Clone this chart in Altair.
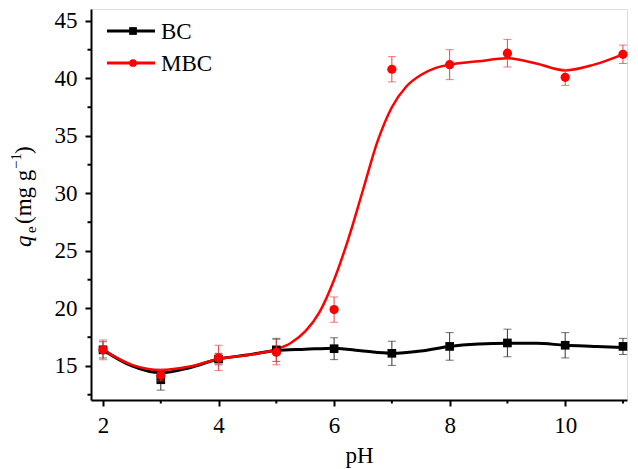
import altair as alt
import pandas as pd

# ---- data ----
ph = [2, 3, 4, 5, 6, 7, 8, 9, 10, 11]
bc_q = [16.4, 13.8, 15.6, 16.4, 16.5, 16.1, 16.7, 17.0, 16.8, 16.7]
bc_err = [0.7, 0.9, 0.5, 1.0, 0.95, 1.05, 1.2, 1.2, 1.1, 0.7]
mbc_q = [16.4, 14.2, 15.7, 16.2, 19.9, 40.8, 41.2, 42.2, 40.1, 42.1]
mbc_err = [0.85, 0.5, 1.1, 1.1, 1.1, 1.1, 1.3, 1.2, 0.7, 0.8]

# fitted curves as drawn in the reference
bc_fit_ph = [2, 2.5, 3, 3.5, 4, 4.5, 5, 5.5, 6, 6.5, 7, 7.5, 8, 8.5, 9, 9.5, 10, 10.5, 11]
bc_fit_q = [16.4, 15.0, 14.4, 14.85, 15.6, 15.95, 16.35, 16.45, 16.55, 16.3, 16.1, 16.3,
            16.7, 16.9, 16.97, 16.97, 16.8, 16.7, 16.6]
mbc_fit_ph = [2, 2.5, 3, 3.5, 4, 4.5, 5, 5.25, 5.5, 5.75, 6, 6.25, 6.5, 6.75, 7, 7.25,
              7.5, 7.75, 8, 8.5, 9, 9.5, 10, 10.5, 11]
mbc_fit_q = [16.4, 15.1, 14.65, 14.95, 15.6, 15.95, 16.45, 17.0, 18.0, 19.7, 22.5, 26.1,
             30.3, 34.5, 37.5, 39.3, 40.3, 40.9, 41.2, 41.5, 41.75, 41.3, 40.7, 41.2, 42.1]

legend_labels = ["BC", "MBC"]
x_major = [2, 4, 6, 8, 10]
x_minor = [3, 5, 7, 9, 11]
y_major = [15, 20, 25, 30, 35, 40, 45]
y_minor = [12.5, 17.5, 22.5, 27.5, 32.5, 37.5, 42.5]
# y-axis title pieces (italic q, subscript e, superscript -1)
ytitle_parts = ["q", "e", "(mg g", "−1", ")"]

RED = "#ff0000"
BLACK = "#000000"
FONT = "Liberation Serif"
PLOT_H = 391

pts_bc = pd.DataFrame({"ph": ph, "q": bc_q,
                       "lo": [a - b for a, b in zip(bc_q, bc_err)],
                       "hi": [a + b for a, b in zip(bc_q, bc_err)]})
pts_mbc = pd.DataFrame({"ph": ph, "q": mbc_q,
                        "lo": [a - b for a, b in zip(mbc_q, mbc_err)],
                        "hi": [a + b for a, b in zip(mbc_q, mbc_err)]})
fit_bc = pd.DataFrame({"ph": bc_fit_ph, "q": bc_fit_q})
fit_mbc = pd.DataFrame({"ph": mbc_fit_ph, "q": mbc_fit_q})

xscale = alt.Scale(domain=[1.792, 11.07], nice=False, zero=False)
yscale = alt.Scale(domain=[12.04, 46.04], nice=False, zero=False)

xaxis = alt.Axis(
    values=x_major, title="pH", grid=False, format="d",
    labelOverlap=False, labelBound=False, labelFlush=False, tickSize=6,
    labelFont=FONT, labelFontSize=23, labelColor="black", labelPadding=8,
    titleFont=FONT, titleFontSize=23, titleFontWeight="normal", titleColor="black",
    titlePadding=7,
    domainColor="black", domainWidth=2, tickColor="black", tickWidth=2,
)
yaxis = alt.Axis(
    values=y_major, title=None, grid=False, format="d",
    labelOverlap=False, labelBound=False, labelFlush=False, tickSize=6,
    labelFont=FONT, labelFontSize=23, labelColor="black", labelPadding=8,
    domainColor="black", domainWidth=2, tickColor="black", tickWidth=2,
)

X = alt.X("ph:Q", scale=xscale, axis=xaxis)
Y = alt.Y("q:Q", scale=yscale, axis=yaxis)
Xp = alt.X("ph:Q", scale=xscale)
Yp = alt.Y("q:Q", scale=yscale)

line_bc = alt.Chart(fit_bc).mark_line(color=BLACK, strokeWidth=3, interpolate="monotone").encode(x=X, y=Y)
line_mbc = alt.Chart(fit_mbc).mark_line(color=RED, strokeWidth=2.5, interpolate="monotone").encode(x=Xp, y=Yp)


def errbars(df, color):
    rule = alt.Chart(df).mark_rule(color=color, strokeWidth=1).encode(
        x=Xp, y=alt.Y("lo:Q", scale=yscale), y2="hi:Q")
    cap_lo = alt.Chart(df).mark_tick(color=color, thickness=1, size=8, orient="horizontal").encode(
        x=Xp, y=alt.Y("lo:Q", scale=yscale))
    cap_hi = alt.Chart(df).mark_tick(color=color, thickness=1, size=8, orient="horizontal").encode(
        x=Xp, y=alt.Y("hi:Q", scale=yscale))
    return rule + cap_lo + cap_hi


err_bc = errbars(pts_bc, "#333333")
err_mbc = errbars(pts_mbc, "#f04040")

pt_bc = alt.Chart(pts_bc).mark_point(shape="square", filled=True, color=BLACK, size=75, opacity=1).encode(x=Xp, y=Yp)
pt_mbc = alt.Chart(pts_mbc).mark_point(shape="circle", filled=True, color=RED, size=85, opacity=1).encode(x=Xp, y=Yp)

# minor ticks (outward, shorter) drawn through the scales
minor_x = alt.Chart(pd.DataFrame({"ph": x_minor})).mark_rule(color="black", strokeWidth=2).encode(
    x=Xp, y=alt.value(PLOT_H), y2=alt.value(PLOT_H + 3.5))
minor_y = alt.Chart(pd.DataFrame({"q": y_minor})).mark_rule(color="black", strokeWidth=2).encode(
    y=Yp, x=alt.value(-3.5), x2=alt.value(0))

# manual legend (inside the plot, top-left)
extra = []
for i, lab in enumerate(legend_labels):
    col = BLACK if i == 0 else RED
    shp = "square" if i == 0 else "circle"
    yy = 22 + 32 * i
    leg_df = pd.DataFrame({"label": [lab]})
    extra.append(alt.Chart(leg_df).mark_rule(color=col, strokeWidth=3).encode(
        x=alt.value(16), x2=alt.value(64), y=alt.value(yy)))
    extra.append(alt.Chart(leg_df).mark_point(shape=shp, filled=True, color=col, size=60, opacity=1).encode(
        x=alt.value(42), y=alt.value(yy)))
    extra.append(alt.Chart(leg_df).mark_text(font=FONT, fontSize=23, align="left", baseline="middle",
                                             color="black").encode(
        x=alt.value(70), y=alt.value(yy + 1), text="label:N"))

# rotated y-axis title built from pieces
title_layout = [  # (x, y, size, style) relative to the plot area
    (-60, 238, 23, "italic"),
    (-55, 224, 15, "normal"),
    (-60, 215, 23, "normal"),
    (-70, 160, 15, "normal"),
    (-60, 145, 23, "normal"),
]
for txt, (tx, ty, fs, st) in zip(ytitle_parts, title_layout):
    tdf = pd.DataFrame({"t": [txt]})
    extra.append(alt.Chart(tdf).mark_text(font=FONT, fontSize=fs, fontStyle=st, angle=270,
                                          align="left", baseline="alphabetic", color="black").encode(
        x=alt.value(tx), y=alt.value(ty), text="t:N"))

chart = alt.layer(line_bc, line_mbc, err_bc, pt_bc, err_mbc, pt_mbc, minor_x, minor_y, *extra).properties(
    width=536, height=PLOT_H,
    autosize=alt.AutoSizeParams(type="none"),
    padding={"left": 83, "top": 1, "right": 3, "bottom": 68},
).configure_view(stroke="black", strokeWidth=2).configure(background="white")

chart.save("out.html", embed_options={"renderer": "svg", "actions": False})
